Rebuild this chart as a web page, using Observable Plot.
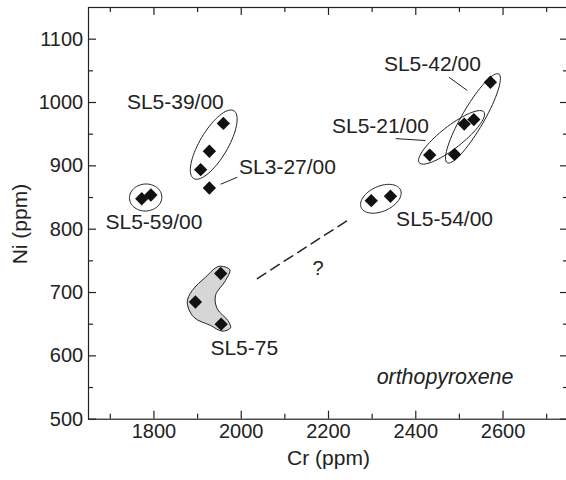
<!DOCTYPE html>
<html><head><meta charset="utf-8">
<script src="https://cdn.jsdelivr.net/npm/d3@7"></script>
<script src="https://cdn.jsdelivr.net/npm/@observablehq/plot@0.6"></script>
<style>body{margin:0;background:#fff} svg{display:block}</style>
</head><body><div id="chart"></div>
<script>
// ---- data ----
const pointSample = ["SL5-59/00","SL5-59/00","SL5-39/00","SL5-39/00","SL5-39/00","SL3-27/00",
  "SL5-75","SL5-75","SL5-75","SL5-54/00","SL5-54/00",
  "SL5-21/00","SL5-42/00","SL5-21/00","SL5-21/00","SL5-42/00"];
const pointCr = [1772,1793,1959,1927,1907,1927,1953,1895,1954,2298,2342,2432,2489,2511,2533,2571];
const pointNi = [848,854,967,923,894,865,730,685,650,845,852,917,918,966,973,1032];

// ellipses around sample groups: centre, end of long axis (data), half width of short axis
const ellipseName = ["SL5-59/00","SL5-39/00","SL5-54/00","SL5-21/00","SL5-42/00"];
const ellipseCr = [1781,1937,2320,2482,2531];
const ellipseNi = [850,933.5,848,945,975];
const ellipseEndCr = [1818,1983,2365,2556,2590];
const ellipseEndNi = [852,987,862,985,1045];
const ellipseMinor = [13.5,14,12.5,11,11];

// shaded SL5-75 field outline
const fieldCr = [1948.7,1973.9,1964,1941,1945,1969.3,1975.5,1956.5,1929.7,1891.4,1876.2,1887.7,1918.2];
const fieldNi = [741.3,735.9,719,695.3,674.3,655.8,644.3,639,648,661,684.7,703.2,724.2];

// dashed trend line with "?"
const trendCr = [2037,2244];
const trendNi = [722,814];
const questionCr = [2176];
const questionNi = [737];

// labels
const labelText = ["SL5-39/00","SL3-27/00","SL5-59/00","SL5-75","SL5-54/00","SL5-21/00","SL5-42/00"];
const labelCr = [1849,2106,1800,2007,2466,2319,2438];
const labelNi = [1001,897,811,612,816,962,1060];
const leaderCr1 = [1953,2354,2476];
const leaderNi1 = [871,943,1040];
const leaderCr2 = [1991,2422,2518];
const leaderNi2 = [882,940,1019];

const noteText = ["orthopyroxene"];
const noteCr = [2467];
const noteNi = [567];

const xMajor = [1800,2000,2200,2400,2600];
const xMinor = [1700,1900,2100,2300,2500,2700];
const yMajor = [500,600,700,800,900,1000,1100];
const yMinor = [550,650,750,850,950,1050];
const xDomain = [1650,2750];
const yDomain = [500,1150];
const xTitle = "Cr (ppm)";
const yTitle = "Ni (ppm)";
const yTitleAt = 808; // vertical centre of the rotated y title, in Ni units

// ---- layout ----
const W = 566, H = 480;
const mL = 88, mR = -2, mT = 7, mB = 61.3;
const fw = W - mL - mR, fh = H - mT - mB;
const kx = fw / (xDomain[1]-xDomain[0]);
const ky = fh / (yDomain[1]-yDomain[0]);
const ink = "#222";
const font = "'Liberation Sans', Arial, Helvetica, sans-serif";

const points = pointCr.map((c,i)=>({cr:c, ni:pointNi[i], s:pointSample[i]}));

// ellipse outlines in data units
const ellipsePts = [];
ellipseName.forEach((name,i)=>{
  const dx = (ellipseEndCr[i]-ellipseCr[i])*kx, dy = (ellipseEndNi[i]-ellipseNi[i])*ky;
  const len = Math.hypot(dx,dy), px = -dy/len, py = dx/len, b = ellipseMinor[i];
  for (let k=0;k<72;k++){
    const t = k/72*2*Math.PI;
    const ox = Math.cos(t)*dx + Math.sin(t)*b*px;
    const oy = Math.cos(t)*dy + Math.sin(t)*b*py;
    ellipsePts.push({name, cr: ellipseCr[i]+ox/kx, ni: ellipseNi[i]+oy/ky});
  }
});
const field = fieldCr.map((c,i)=>({cr:c, ni:fieldNi[i]}));
const trend = trendCr.map((c,i)=>({cr:c, ni:trendNi[i]}));
const labels = labelText.map((t,i)=>({t, cr:labelCr[i], ni:labelNi[i]}));
const leaders = leaderCr1.map((c,i)=>({x1:c, y1:leaderNi1[i], x2:leaderCr2[i], y2:leaderNi2[i]}));

const chart = Plot.plot({
  width: W, height: H,
  marginLeft: mL, marginRight: mR, marginTop: mT, marginBottom: mB,
  style: {fontFamily: font, color: ink, background: "#fff"},
  x: {domain: xDomain, axis: null},
  y: {domain: yDomain, axis: null},
  marks: [
    Plot.line(field, {x:"cr", y:"ni", curve:"catmull-rom-closed", fill:"#d6d6d6", stroke:ink, strokeWidth:1}),
    Plot.line(ellipsePts, {x:"cr", y:"ni", z:"name", curve:"linear-closed", stroke:ink, strokeWidth:1}),
    Plot.line(trend, {x:"cr", y:"ni", stroke:ink, strokeWidth:1.5, strokeDasharray:"10,6"}),
    Plot.link(leaders, {x1:"x1", y1:"y1", x2:"x2", y2:"y2", stroke:ink, strokeWidth:1}),
    Plot.dot(points, {x:"cr", y:"ni", symbol:"diamond2", r:6, fill:"#111", stroke:"none"}),
    Plot.text(labels, {x:"cr", y:"ni", text:"t", fontSize:21, fill:ink}),
    Plot.text(questionCr.map((c,i)=>({cr:c, ni:questionNi[i]})), {x:"cr", y:"ni", text:()=>"?", fontSize:20, fill:ink}),
    Plot.text(noteText.map((t,i)=>({t, cr:noteCr[i], ni:noteNi[i]})), {x:"cr", y:"ni", text:"t", fontSize:21.4, fontStyle:"italic", fill:ink}),
    // frame and ticks (inward)
    Plot.frame({stroke: ink, strokeWidth: 1.2}),
    Plot.tickX(xMajor, {x:d=>d, insetTop: fh-8, stroke:ink, strokeWidth:1.2}),
    Plot.tickX(xMinor, {x:d=>d, insetTop: fh-5, stroke:ink, strokeWidth:1.2}),
    Plot.tickX(xMajor, {x:d=>d, insetBottom: fh-8, stroke:ink, strokeWidth:1.2}),
    Plot.tickX(xMinor, {x:d=>d, insetBottom: fh-5, stroke:ink, strokeWidth:1.2}),
    Plot.tickY(yMajor, {y:d=>d, insetRight: fw-8, stroke:ink, strokeWidth:1.2}),
    Plot.tickY(yMinor, {y:d=>d, insetRight: fw-5, stroke:ink, strokeWidth:1.2}),
    Plot.tickY(yMajor, {y:d=>d, insetLeft: fw-8, stroke:ink, strokeWidth:1.2}),
    Plot.tickY(yMinor, {y:d=>d, insetLeft: fw-5, stroke:ink, strokeWidth:1.2}),
    // tick labels
    Plot.text(xMajor, {x:d=>d, frameAnchor:"bottom", dy:19.2, text:d=>String(d), fontSize:20, fill:ink}),
    Plot.text(yMajor, {y:d=>d, frameAnchor:"left", dx:-5.3, textAnchor:"end", text:d=>String(d), fontSize:20, fill:ink}),
    // axis titles
    Plot.text([xTitle], {frameAnchor:"bottom", dy:45.9, textAnchor:"middle", text:d=>d, fontSize:21, fill:ink}),
    Plot.text([{t:yTitle, ni:yTitleAt}], {y:"ni", frameAnchor:"left", dx:-68.7, rotate:-90, textAnchor:"middle", text:"t", fontSize:21, fill:ink})
  ]
});
document.getElementById("chart").append(chart);
</script>
</body></html>
